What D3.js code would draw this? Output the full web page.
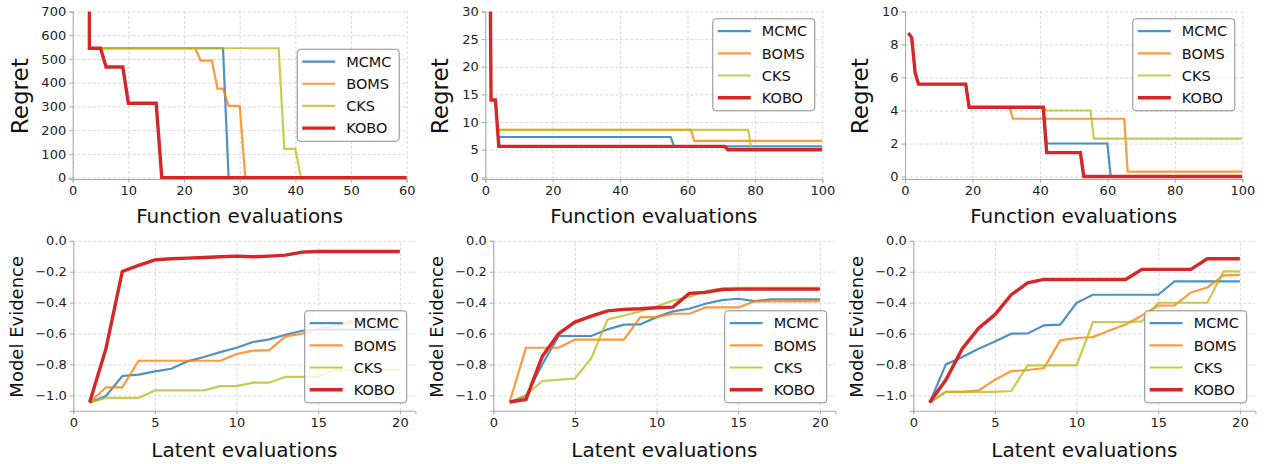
<!DOCTYPE html>
<html>
<head>
<meta charset="utf-8">
<script src="https://cdn.jsdelivr.net/npm/d3@7"></script>
<style>
  body { margin: 0; background: #fff; }
  svg { font-family: "DejaVu Sans", sans-serif; }
</style>
</head>
<body>
<svg id="chart" width="1266" height="464"></svg>
<script>
// ---- data -------------------------------------------------------------
const methods = ["MCMC", "BOMS", "CKS", "KOBO"];
const colors = ["#1f77b4", "#ff7f0e", "#bcbd22", "#d62728"];

// regret curves: [evaluation, regret] points, order = methods
const regretA = [
  [[5, 545], [27, 545], [28, 0], [60, 0]],
  [[5, 545], [22, 545], [23, 493], [25, 493], [26, 375], [27, 375], [28, 302], [30, 302], [31, 0], [60, 0]],
  [[5, 545], [37, 545], [38, 121], [40, 121], [41, 0], [60, 0]],
  [[3, 800], [3, 545], [5, 545], [6, 466], [9, 466], [10, 313], [15, 313], [16, 0], [60, 0]]
];
const regretB = [
  [[4, 7.3], [55, 7.3], [56, 5.6], [100, 5.6]],
  [[4, 8.6], [61, 8.6], [62, 6.6], [100, 6.6]],
  [[4, 8.6], [78, 8.6], [79, 5.0], [100, 5.0]],
  [[1.5, 32], [1.7, 14], [3, 14], [4, 5.6], [71, 5.6], [72, 5.0], [100, 5.0]]
];
const regretC = [
  [[4, 5.6], [18, 5.6], [19, 4.2], [41, 4.2], [42, 2.0], [60, 2.0], [61, 0], [100, 0]],
  [[4, 5.6], [18, 5.6], [19, 4.2], [31, 4.2], [32, 3.5], [65, 3.5], [66, 0.3], [100, 0.3]],
  [[4, 5.6], [18, 5.6], [19, 4.2], [41, 4.2], [42, 4.0], [55, 4.0], [56, 2.3], [100, 2.3]],
  [[1, 8.7], [2, 8.4], [3, 6.3], [4, 5.6], [18, 5.6], [19, 4.2], [41, 4.2], [42, 1.45], [52, 1.45], [53, 0], [100, 0]]
];

// model evidence per latent evaluation
const latentX = [1, 2, 3, 4, 5, 6, 7, 8, 9, 10, 11, 12, 13, 14, 15, 16, 17, 18, 19, 20];
const evidenceA = [
  [-1.047, -1.004, -0.875, -0.866, -0.845, -0.828, -0.78, -0.752, -0.72, -0.692, -0.655, -0.638, -0.608, -0.582, -0.575, -0.575, -0.575, -0.575, -0.575, -0.575],
  [-1.047, -0.948, -0.948, -0.776, -0.776, -0.776, -0.776, -0.776, -0.776, -0.733, -0.711, -0.707, -0.618, -0.601, -0.569, -0.55, -0.525, -0.52, -0.52, -0.52],
  [-1.047, -1.017, -1.017, -1.017, -0.968, -0.968, -0.968, -0.968, -0.94, -0.94, -0.918, -0.918, -0.88, -0.88, -0.88, -0.834, -0.834, -0.834, -0.834, -0.834],
  [-1.047, -0.698, -0.198, -0.159, -0.123, -0.116, -0.112, -0.108, -0.103, -0.099, -0.103, -0.099, -0.093, -0.073, -0.069, -0.069, -0.069, -0.069, -0.069, -0.069]
];
const evidenceB = [
  [-1.043, -1.004, -0.8, -0.616, -0.616, -0.616, -0.573, -0.543, -0.541, -0.494, -0.457, -0.44, -0.407, -0.384, -0.375, -0.39, -0.379, -0.379, -0.379, -0.379],
  [-1.043, -0.692, -0.692, -0.692, -0.64, -0.64, -0.64, -0.64, -0.494, -0.494, -0.472, -0.472, -0.431, -0.431, -0.431, -0.392, -0.392, -0.392, -0.392, -0.392],
  [-1.043, -1.0, -0.907, -0.899, -0.89, -0.759, -0.509, -0.483, -0.457, -0.425, -0.386, -0.364, -0.325, -0.31, -0.304, -0.304, -0.304, -0.304, -0.304, -0.304],
  [-1.043, -1.026, -0.748, -0.601, -0.526, -0.487, -0.453, -0.444, -0.44, -0.433, -0.429, -0.34, -0.334, -0.315, -0.3125, -0.3125, -0.3125, -0.3125, -0.3125, -0.3125]
];
const evidenceC = [
  [-1.047, -0.8, -0.752, -0.698, -0.651, -0.601, -0.6, -0.547, -0.543, -0.401, -0.349, -0.349, -0.349, -0.349, -0.349, -0.263, -0.263, -0.263, -0.263, -0.263],
  [-1.047, -0.978, -0.978, -0.968, -0.899, -0.843, -0.836, -0.823, -0.644, -0.629, -0.623, -0.58, -0.541, -0.483, -0.42, -0.418, -0.334, -0.302, -0.224, -0.22],
  [-1.047, -0.978, -0.978, -0.978, -0.978, -0.972, -0.806, -0.806, -0.806, -0.806, -0.526, -0.526, -0.526, -0.522, -0.401, -0.401, -0.401, -0.401, -0.198, -0.198],
  [-1.047, -0.899, -0.698, -0.565, -0.478, -0.349, -0.272, -0.25, -0.25, -0.25, -0.25, -0.25, -0.25, -0.185, -0.185, -0.185, -0.185, -0.116, -0.116, -0.116]
];

// tick values
const ticksRegretAX = [0, 10, 20, 30, 40, 50, 60];
const ticksRegretAY = [0, 100, 200, 300, 400, 500, 600, 700];
const ticksRegretX = [0, 20, 40, 60, 80, 100];
const ticksRegretBY = [0, 5, 10, 15, 20, 25, 30];
const ticksRegretCY = [0, 2, 4, 6, 8, 10];
const ticksLatentX = [0, 5, 10, 15, 20];
const ticksEvidenceY = [0, -0.2, -0.4, -0.6, -0.8, -1.0];

// ---- drawing ----------------------------------------------------------
const svg = d3.select("#chart");
const grey = "#a8a8a8";

function toPoints(vals) { return vals.map((v, i) => [latentX[i], v]); }

function panel(o) {
  const x = d3.scaleLinear().domain(o.xDomain).range([o.left, o.right]);
  const y = d3.scaleLinear().domain(o.yDomain).range([o.bottom, o.top]);
  const h = o.bottom - o.top, w = o.right - o.left;
  const g = svg.append("g");

  // dashed grid
  g.append("g").attr("transform", `translate(0,${o.bottom})`)
    .call(d3.axisBottom(x).tickValues(o.xTicks).tickSize(-h).tickFormat(""))
    .call(a => a.select(".domain").remove())
    .selectAll("line").attr("stroke", "#cfcfcf").attr("stroke-width", 0.8).attr("stroke-dasharray", "3,2");
  g.append("g").attr("transform", `translate(${o.left},0)`)
    .call(d3.axisLeft(y).tickValues(o.yTicks).tickSize(-w).tickFormat(""))
    .call(a => a.select(".domain").remove())
    .selectAll("line").attr("stroke", "#cfcfcf").attr("stroke-width", 0.8).attr("stroke-dasharray", "3,2");

  // clip + series
  svg.append("clipPath").attr("id", "clip" + o.id)
    .append("rect").attr("x", o.left).attr("y", o.top).attr("width", w).attr("height", h);
  const line = d3.line().x(d => x(d[0])).y(d => y(d[1]));
  g.append("g").attr("clip-path", `url(#clip${o.id})`)
    .selectAll("path").data(o.series).join("path")
    .attr("d", line)
    .attr("fill", "none")
    .attr("stroke", (d, i) => colors[i])
    .attr("stroke-opacity", (d, i) => i === 3 ? 1 : 0.8)
    .attr("stroke-width", (d, i) => i === 3 ? 3.4 : 2.2);

  // axes (left + bottom spines only)
  const xa = g.append("g").attr("transform", `translate(0,${o.bottom})`)
    .call(d3.axisBottom(x).tickValues(o.xTicks).tickSize(3.5).tickPadding(3).tickFormat(o.xFmt));
  const ya = g.append("g").attr("transform", `translate(${o.left},0)`)
    .call(d3.axisLeft(y).tickValues(o.yTicks).tickSize(3.5).tickPadding(3).tickFormat(o.yFmt));
  [xa, ya].forEach(a => {
    a.select(".domain").attr("stroke", grey).attr("stroke-width", 1);
    a.selectAll(".tick line").attr("stroke", grey);
    a.selectAll(".tick text").attr("fill", "#222").style("font-size", "13px")
      .style("font-family", "DejaVu Sans, sans-serif");
  });

  // axis titles
  svg.append("text").attr("x", (o.left + o.right) / 2).attr("y", o.xLabelY)
    .attr("text-anchor", "middle").style("font-size", "20px").attr("fill", "#111").text(o.xLabel);
  svg.append("text").attr("transform", `translate(${o.yLabelX},${(o.top + o.bottom) / 2 + 1}) rotate(-90)`)
    .attr("text-anchor", "middle").style("font-size", o.yLabelSize).attr("fill", "#111").text(o.yLabel);

  // legend
  const lw = 102, lh = 92, row = 22.2;
  let lx = o.right - 7.5 - lw, ly;
  if (o.legend === "center right") ly = (o.top + o.bottom) / 2 - lh / 2;
  else if (o.legend === "upper right") ly = o.top + 7.3;
  else { lx = o.right - 8.7 - lw; ly = o.bottom - 8 - lh; }
  const lg = svg.append("g").attr("transform", `translate(${lx},${ly})`);
  lg.append("rect").attr("width", lw).attr("height", lh).attr("rx", 3)
    .attr("fill", "#fff").attr("fill-opacity", 0.8).attr("stroke", "#8c8c8c").attr("stroke-width", 1);
  methods.forEach((m, i) => {
    const cy = 12.3 + i * row;
    lg.append("line").attr("x1", 5).attr("x2", 38).attr("y1", cy).attr("y2", cy)
      .attr("stroke", colors[i]).attr("stroke-opacity", i === 3 ? 1 : 0.8)
      .attr("stroke-width", i === 3 ? 3.4 : 2.2);
    lg.append("text").attr("x", 49).attr("y", cy).attr("dy", "0.36em")
      .style("font-size", "14.5px").attr("fill", "#111").text(m);
  });
}

const fmtInt = d3.format("d");
const fmtEv = d3.format(".1f");

const topRow = { top: 11.5, bottom: 179, xLabel: "Function evaluations", yLabel: "Regret",
  yLabelSize: "23px", xLabelY: 222.5, xFmt: fmtInt, yFmt: fmtInt };
const botRow = { top: 240.8, bottom: 410.8, xLabel: "Latent evaluations", yLabel: "Model Evidence",
  yLabelSize: "18px", xLabelY: 456.5, xFmt: fmtInt, yFmt: fmtEv,
  xDomain: [0, 20.95], yDomain: [-1.1, 0], xTicks: ticksLatentX, yTicks: ticksEvidenceY, legend: "lower right" };

panel({ ...topRow, id: "a", left: 72.7, right: 406.7, xDomain: [0, 60], yDomain: [-6, 700],
  xTicks: ticksRegretAX, yTicks: ticksRegretAY, series: regretA, yLabelX: 27.5, legend: "center right" });
panel({ ...topRow, id: "b", left: 485.3, right: 822.3, xDomain: [0, 100], yDomain: [-0.3, 30],
  xTicks: ticksRegretX, yTicks: ticksRegretBY, series: regretB, yLabelX: 447.5, legend: "upper right" });
panel({ ...topRow, id: "c", left: 905, right: 1242.3, xDomain: [0, 100], yDomain: [-0.15, 10],
  xTicks: ticksRegretX, yTicks: ticksRegretCY, series: regretC, yLabelX: 867.5, legend: "upper right" });

panel({ ...botRow, id: "d", left: 73.3, right: 415.4, series: evidenceA.map(toPoints), yLabelX: 22.5 });
panel({ ...botRow, id: "e", left: 493.3, right: 835.4, series: evidenceB.map(toPoints), yLabelX: 442.5 });
panel({ ...botRow, id: "f", left: 913.3, right: 1255.4, series: evidenceC.map(toPoints), yLabelX: 862.5 });
</script>
</body>
</html>
